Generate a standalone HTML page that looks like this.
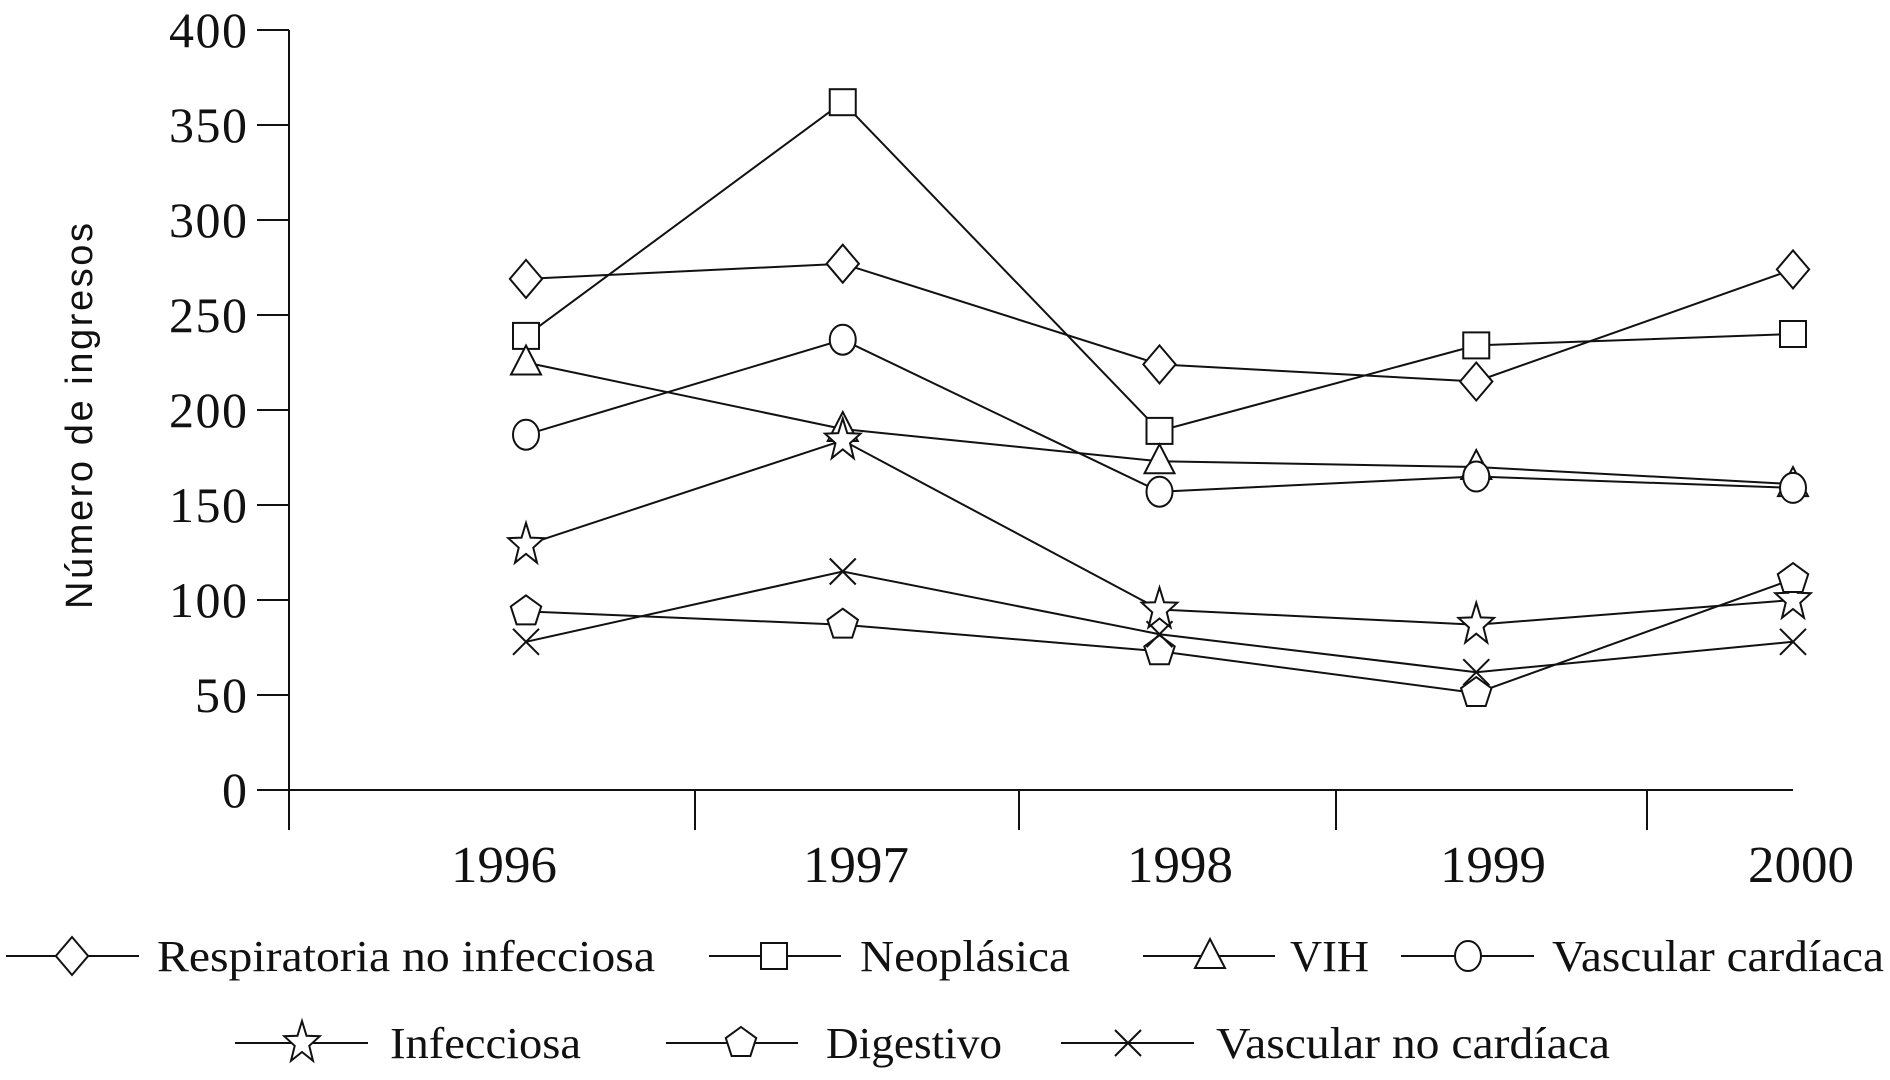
<!DOCTYPE html>
<html><head><meta charset="utf-8"><style>
html,body{margin:0;padding:0;background:#fff;}
svg{display:block;}
text{font-family:"Liberation Serif",serif;fill:#111;}
</style></head><body>
<svg id="chart" width="1890" height="1080" viewBox="0 0 1890 1080" xmlns="http://www.w3.org/2000/svg"></svg>
<script>
const years = ["1996","1997","1998","1999","2000"];
const yTicks = [0,50,100,150,200,250,300,350,400];
const respiratoria = [269,277,224,215,274];
const neoplasica = [239,362,189,234,240];
const vih = [225,190,173,170,161];
const vascularCardiaca = [187,237,157,165,159];
const infecciosa = [129,184,95,87,100];
const digestivo = [94,87,73,51,111];
const vascularNoCardiaca = [78,115,82,62,78];
const seriesNames = ["Respiratoria no infecciosa","Neoplásica","VIH","Vascular cardíaca","Infecciosa","Digestivo","Vascular no cardíaca"];
const seriesData = [respiratoria,neoplasica,vih,vascularCardiaca,infecciosa,digestivo,vascularNoCardiaca];
const markers = ["diamond","square","triangle","circle","star","pentagon","cross"];

const NS="http://www.w3.org/2000/svg";
const svg=document.getElementById('chart');
const xPos=[526,844,1159,1474,1793];
const labelPos=[504,856,1180,1493,1801];
function xScale(i){return xPos[0]+(xPos[4]-xPos[0])*i/(years.length-1);}
function yScale(v){return 790-(790-30)*v/400;}
function el(tag,attrs,parent){const e=document.createElementNS(NS,tag);for(const k in attrs)e.setAttribute(k,attrs[k]);(parent||svg).appendChild(e);return e;}
const S={stroke:"#111","stroke-width":2,fill:"none"};

let a=el('line',{x1:289,y1:30,x2:289,y2:830,...S});


a=el('line',{x1:289,y1:790,x2:1793,y2:790,...S});


[695,1019,1336,1647].forEach(x=>{const t=el('line',{x1:x,y1:790,x2:x,y2:830,...S});

});
yTicks.forEach(v=>{const y=yScale(v);
const t=el('line',{x1:257,y1:y,x2:289,y2:y,...S});


const tx=el('text',{x:247,y:y+17,'text-anchor':'end','font-size':50});
tx.textContent=v;
if(String(v).length>1)tx.setAttribute('textLength',String(v).length*26);

});
years.forEach((yr,i)=>{const tx=el('text',{x:labelPos[i],y:882,'text-anchor':'middle','font-size':52,textLength:106,lengthAdjust:'spacingAndGlyphs'});
tx.textContent=yr;

});
const yt=el('text',{x:0,y:0,transform:'translate(92,416) rotate(-90)','text-anchor':'middle','font-size':38,textLength:386,style:'font-family:"Liberation Sans",sans-serif'});
yt.textContent="Número de ingresos";



function marker(type,cx,cy,g){
 const r=19;
 if(type==='diamond')el('polygon',{points:`${cx},${cy-r} ${cx+r*0.85},${cy} ${cx},${cy+r} ${cx-r*0.85},${cy}`,...S,fill:'#fff'},g);
 else if(type==='square')el('rect',{x:cx-13,y:cy-13,width:26,height:26,...S,fill:'#fff'},g);
 else if(type==='triangle')el('polygon',{points:`${cx},${cy-17} ${cx+15},${cy+12} ${cx-15},${cy+12}`,...S,fill:'#fff'},g);
 else if(type==='circle')el('ellipse',{cx:cx,cy:cy,rx:13,ry:15,...S,fill:'#fff'},g);
 else if(type==='star'){let p=[];for(let k=0;k<10;k++){const ang=-Math.PI/2+k*Math.PI/5;const rr=k%2?9:22;p.push((cx+rr*Math.cos(ang)*0.85)+','+(cy+rr*Math.sin(ang)));}el('polygon',{points:p.join(' '),...S,fill:'#fff'},g);}
 else if(type==='pentagon'){let p=[];for(let k=0;k<5;k++){const ang=-Math.PI/2+k*2*Math.PI/5;p.push((cx+16*Math.cos(ang))+','+(cy+16*Math.sin(ang)));}el('polygon',{points:p.join(' '),...S,fill:'#fff'},g);}
 else if(type==='cross'){el('line',{x1:cx-13,y1:cy-13,x2:cx+13,y2:cy+13,...S},g);el('line',{x1:cx-13,y1:cy+13,x2:cx+13,y2:cy-13,...S},g);}
}
seriesData.forEach((d,s)=>{
 const g=el('g',{});
 
 
 const pl=el('polyline',{points:d.map((v,i)=>xScale(i)+','+yScale(v)).join(' '),...S},g);
 
 
});
seriesData.forEach((d,s)=>{
 d.forEach((v,i)=>{const g=el('g',{});
 
 
 marker(markers[s],xScale(i),yScale(v),g);});
});

const legend=[[6,139,72,157,498,956],[709,841,774,860,210,956],[1143,1275,1210,1290,79,956],[1401,1534,1468,1552,332,956],[235,368,302,390,191,1043],[666,798,741,826,176,1043],[1061,1194,1128,1216,394,1043]];
legend.forEach((L,s)=>{
 const g=el('g',{});
 
 
 el('line',{x1:L[0],y1:L[5],x2:L[1],y2:L[5],...S},g);
 marker(markers[s],L[2],L[5],g);
 const t=el('text',{x:L[3],y:L[5]+15,'font-size':44,textLength:L[4],lengthAdjust:'spacingAndGlyphs'},g);
 t.textContent=seriesNames[s];
});
</script>
</body></html>
